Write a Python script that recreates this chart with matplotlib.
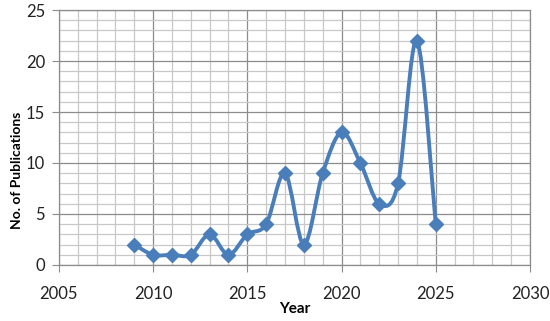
import numpy as np
import matplotlib.pyplot as plt
from matplotlib.path import Path
from matplotlib.patches import PathPatch

years = [2009, 2010, 2011, 2012, 2013, 2014, 2015, 2016, 2017,
         2018, 2019, 2020, 2021, 2022, 2023, 2024, 2025]
pubs = [2, 1, 1, 1, 3, 1, 3, 4, 9, 2, 9, 13, 10, 6, 8, 22, 4]

blue = '#4A7EBB'
plt.rcParams['font.family'] = ['Lato', 'DejaVu Sans']

fig = plt.figure(figsize=(5.5, 3.21), dpi=100)
ax = fig.add_axes([0.107, 0.1745, 0.8566, 0.7943])

# smoothed line like Excel (bezier through the points)
pts = np.column_stack([years, pubs]).astype(float)
verts = [pts[0]]
codes = [Path.MOVETO]
for i in range(len(pts) - 1):
    p0 = pts[i - 1] if i > 0 else pts[i]
    p1 = pts[i]
    p2 = pts[i + 1]
    p3 = pts[i + 2] if i + 2 < len(pts) else pts[i + 1]
    c1 = p1 + (p2 - p0) / 6.0
    c2 = p2 - (p3 - p1) / 6.0
    verts += [c1, c2, p2]
    codes += [Path.CURVE4] * 3
ax.add_patch(PathPatch(Path(verts, codes), facecolor='none', edgecolor=blue,
                       lw=2.8, capstyle='round', joinstyle='round', zorder=3))
ax.plot(years, pubs, linestyle='none', marker='D', color=blue, ms=7.5, zorder=4)

ax.set_xlim(2005, 2030)
ax.set_ylim(0, 25)
ax.set_xticks(np.arange(2005, 2031, 5))
ax.set_yticks(np.arange(0, 26, 5))
ax.set_xticks(np.arange(2005, 2031, 1), minor=True)
ax.set_yticks(np.arange(0, 26, 1), minor=True)
ax.grid(which='major', color='#8c8c8c', lw=0.9)
ax.grid(which='minor', color='#c8c8c8', lw=0.9)
ax.set_axisbelow(True)
ax.tick_params(which='minor', length=0)
ax.tick_params(which='major', length=5, color='#8c8c8c', labelsize=12,
               labelcolor='#222222')
ax.tick_params(axis='x', pad=10)
ax.tick_params(axis='y', pad=5)
for s in ax.spines.values():
    s.set_color('#8c8c8c')
    s.set_linewidth(0.9)

ax.set_xlabel('Year', fontweight='bold', fontsize=11)
ax.set_ylabel('No. of Publications', fontweight='bold', fontsize=10)
ax.xaxis.set_label_coords(0.5, -0.145)
ax.yaxis.set_label_coords(-0.077, 0.37)

fig.savefig('out.png', dpi=100)
